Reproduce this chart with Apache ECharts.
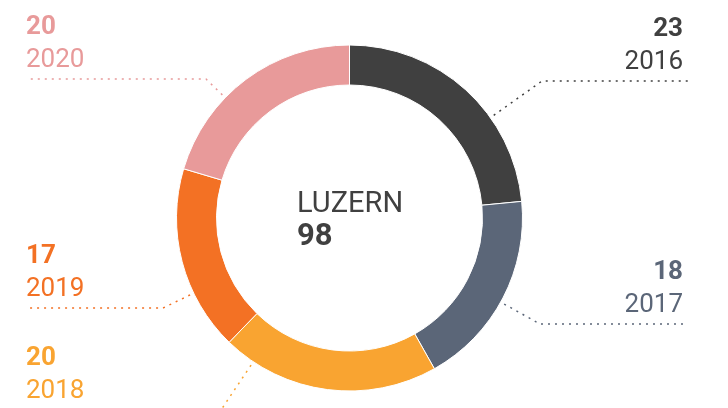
<!DOCTYPE html>
<html>
<head>
<meta charset="utf-8">
<script src="https://cdn.jsdelivr.net/npm/echarts@6/dist/echarts.min.js"></script>
<style>html,body{margin:0;padding:0;background:#fff}#chart{width:728px;height:408px}</style>
</head>
<body>
<div id="chart"></div>
<script>
// ---- data ----
const years = ['2016', '2017', '2018', '2019', '2020'];
const counts = [23, 18, 20, 17, 20];
const regionName = 'LUZERN';

// ---- styles / layout ----
const colors = ['#404040', '#5b6678', '#f9a431', '#f37124', '#e89a9a'];
const CX = 349.5, CY = 218, R_IN = 133, R_OUT = 173;
const EDGE_L = 26, EDGE_R = 688, TEXT_R = 683;
const labelSpots = [
  { side: 'right', lineY: 81, elbowX: 542 },
  { side: 'right', lineY: 324, elbowX: 540 },
  { side: 'left', lineY: 410, elbowX: 221 },
  { side: 'left', lineY: 308, elbowX: 163 },
  { side: 'left', lineY: 79, elbowX: 206 }
];
const FONT = 'Roboto';
const total = counts.reduce((a, b) => a + b, 0);

const chart = echarts.init(document.getElementById('chart'), null, { renderer: 'canvas' });
chart.setOption({
  animation: false,
  backgroundColor: '#fff',
  graphic: [{
    type: 'text',
    left: 297,
    top: 190,
    style: {
      text: '{a|' + regionName + '}\n{b|' + total + '}',
      fill: '#404040',
      rich: {
        a: { fontFamily: FONT, fontSize: 29, lineHeight: 33, fill: '#404040' },
        b: { fontFamily: FONT, fontSize: 31, fontWeight: 'bold', lineHeight: 33, fill: '#404040' }
      }
    }
  }],
  series: [{
    type: 'pie',
    center: [CX, CY],
    radius: [R_IN, R_OUT],
    startAngle: 90,
    clockwise: true,
    avoidLabelOverlap: false,
    silent: true,
    itemStyle: { borderColor: '#fff', borderWidth: 1 },
    label: {
      show: true,
      position: 'outside',
      fontFamily: FONT,
      formatter: p => '{v|' + p.value + '}\n{y|' + p.name + '}',
      rich: {
        v: { fontFamily: FONT, fontSize: 26, fontWeight: 'bold', lineHeight: 33 },
        y: { fontFamily: FONT, fontSize: 26, lineHeight: 33 }
      }
    },
    labelLine: {
      show: true,
      length: 20,
      length2: 20,
      smooth: false,
      lineStyle: { type: [2, 5], width: 1.5 }
    },
    labelLayout: function (params) {
      const s = labelSpots[params.dataIndex];
      const right = s.side === 'right';
      const dx = s.elbowX - CX, dy = s.lineY - CY;
      const d = Math.hypot(dx, dy);
      const r0 = R_OUT + 4;
      const start = [CX + dx / d * r0, CY + dy / d * r0];
      return {
        x: right ? TEXT_R : EDGE_L,
        y: s.lineY - 2,
        align: right ? 'right' : 'left',
        verticalAlign: 'bottom',
        labelLinePoints: [start, [s.elbowX, s.lineY], [right ? EDGE_R : EDGE_L, s.lineY]]
      };
    },
    data: years.map((y, i) => ({
      name: y,
      value: counts[i],
      itemStyle: { color: colors[i] },
      label: { color: colors[i] },
      labelLine: { lineStyle: { color: colors[i] } }
    }))
  }]
});
</script>
</body>
</html>
